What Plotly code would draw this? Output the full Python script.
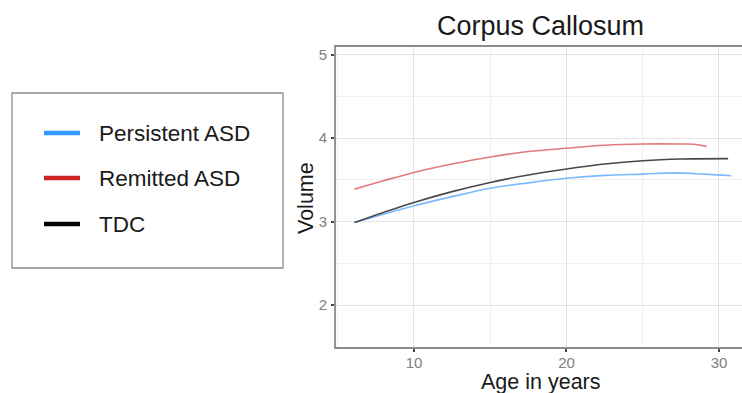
import plotly.graph_objects as go

# ---- data ----
age_persistent = [6.1, 8, 10, 12.5, 15, 17.5, 20, 22.5, 25, 27, 29, 30.8]
vol_persistent = [2.99, 3.09, 3.19, 3.30, 3.40, 3.465, 3.52, 3.555, 3.57, 3.585, 3.57, 3.55]

age_remitted = [6.1, 8, 10, 12.5, 15, 17.5, 20, 22.5, 25, 27.5, 28.5, 29.2]
vol_remitted = [3.39, 3.49, 3.59, 3.69, 3.775, 3.84, 3.88, 3.915, 3.93, 3.93, 3.925, 3.90]

age_tdc = [6.1, 8, 10, 12.5, 15, 17.5, 20, 22.5, 25, 27.5, 30.6]
vol_tdc = [2.99, 3.11, 3.23, 3.36, 3.47, 3.56, 3.63, 3.69, 3.73, 3.75, 3.755]

series_names = ["Persistent ASD", "Remitted ASD", "TDC"]
line_colors = ["#79baff", "#e47a7a", "#484848"]
legend_colors = ["#3399ff", "#cc2222", "#000000"]

x_ticks = [10, 20, 30]
y_ticks = [2, 3, 4, 5]

W, H = 742, 393
L, R, T, B = 335, 0, 46, 45
PW, PH = W - L - R, H - T - B

def px(x):
    return (x - L) / PW

def py(y):
    return (H - B - y) / PH

FONT = "Liberation Sans, Arial, Helvetica, sans-serif"

fig = go.Figure()
for xs, ys, name, col in zip([age_persistent, age_remitted, age_tdc],
                             [vol_persistent, vol_remitted, vol_tdc],
                             series_names, line_colors):
    fig.add_trace(go.Scatter(x=xs, y=ys, mode="lines", name=name,
                             line=dict(color=col, width=1.6, shape="spline", smoothing=1.0),
                             showlegend=False))

shapes = []
annotations = []

# panel border (extends beyond right edge, as in the reference)
shapes.append(dict(type="rect", xref="paper", yref="paper", x0=0, x1=1.1, y0=0, y1=1,
                   line=dict(color="#8a8a8a", width=1.8), layer="above"))

# legend box
shapes.append(dict(type="rect", xref="paper", yref="paper",
                   x0=px(12), x1=px(283), y0=py(268), y1=py(93),
                   line=dict(color="#8c8c8c", width=1.3)))
leg_y = [133, 178, 224]
for name, col, yy in zip(series_names, legend_colors, leg_y):
    shapes.append(dict(type="line", xref="paper", yref="paper",
                       x0=px(44), x1=px(80), y0=py(yy), y1=py(yy),
                       line=dict(color=col, width=4.5)))
    annotations.append(dict(xref="paper", yref="paper", x=px(97), y=py(yy),
                            xanchor="left", yanchor="middle", showarrow=False,
                            text=name, font=dict(family=FONT, size=22.5, color="#1a1a1a")))

# title and axis titles
annotations.append(dict(xref="paper", yref="paper", x=px(540), y=py(26),
                        xanchor="center", yanchor="middle", showarrow=False,
                        text="Corpus Callosum", font=dict(family=FONT, size=27, color="#1a1a1a")))
annotations.append(dict(xref="paper", yref="paper", x=px(541), y=py(382),
                        xanchor="center", yanchor="middle", showarrow=False,
                        text="Age in years", font=dict(family=FONT, size=21.5, color="#1a1a1a")))
annotations.append(dict(xref="paper", yref="paper", x=px(306), y=py(198),
                        xanchor="center", yanchor="middle", showarrow=False, textangle=-90,
                        text="Volume", font=dict(family=FONT, size=21.5, color="#1a1a1a")))

fig.update_layout(
    width=W, height=H,
    margin=dict(l=L, r=R, t=T, b=B, pad=0),
    paper_bgcolor="white", plot_bgcolor="white",
    shapes=shapes, annotations=annotations,
    font=dict(family=FONT),
    xaxis=dict(range=[4.82, 31.51], tickvals=x_ticks, ticktext=[str(v) for v in x_ticks],
               showgrid=True, gridcolor="#e3e3e3", gridwidth=1.2,
               minor=dict(tickvals=[5, 15, 25], showgrid=True, gridcolor="#efefef", gridwidth=1),
               ticks="outside", ticklen=3, tickwidth=1.5, tickcolor="#444",
               ticklabelstandoff=-2,
               tickfont=dict(size=15, color="#808080", family=FONT),
               zeroline=False, showline=False),
    yaxis=dict(range=[1.487, 5.104], tickvals=y_ticks, ticktext=[str(v) for v in y_ticks],
               showgrid=True, gridcolor="#e3e3e3", gridwidth=1.2,
               minor=dict(tickvals=[2.5, 3.5, 4.5], showgrid=True, gridcolor="#efefef", gridwidth=1),
               ticks="outside", ticklen=3, tickwidth=1.5, tickcolor="#444",
               ticklabelstandoff=1,
               tickfont=dict(size=15, color="#808080", family=FONT),
               zeroline=False, showline=False),
)

fig.write_html("out.html", config={"displayModeBar": False},
               post_script="document.body.style.margin='0';document.body.style.overflow='hidden';")
